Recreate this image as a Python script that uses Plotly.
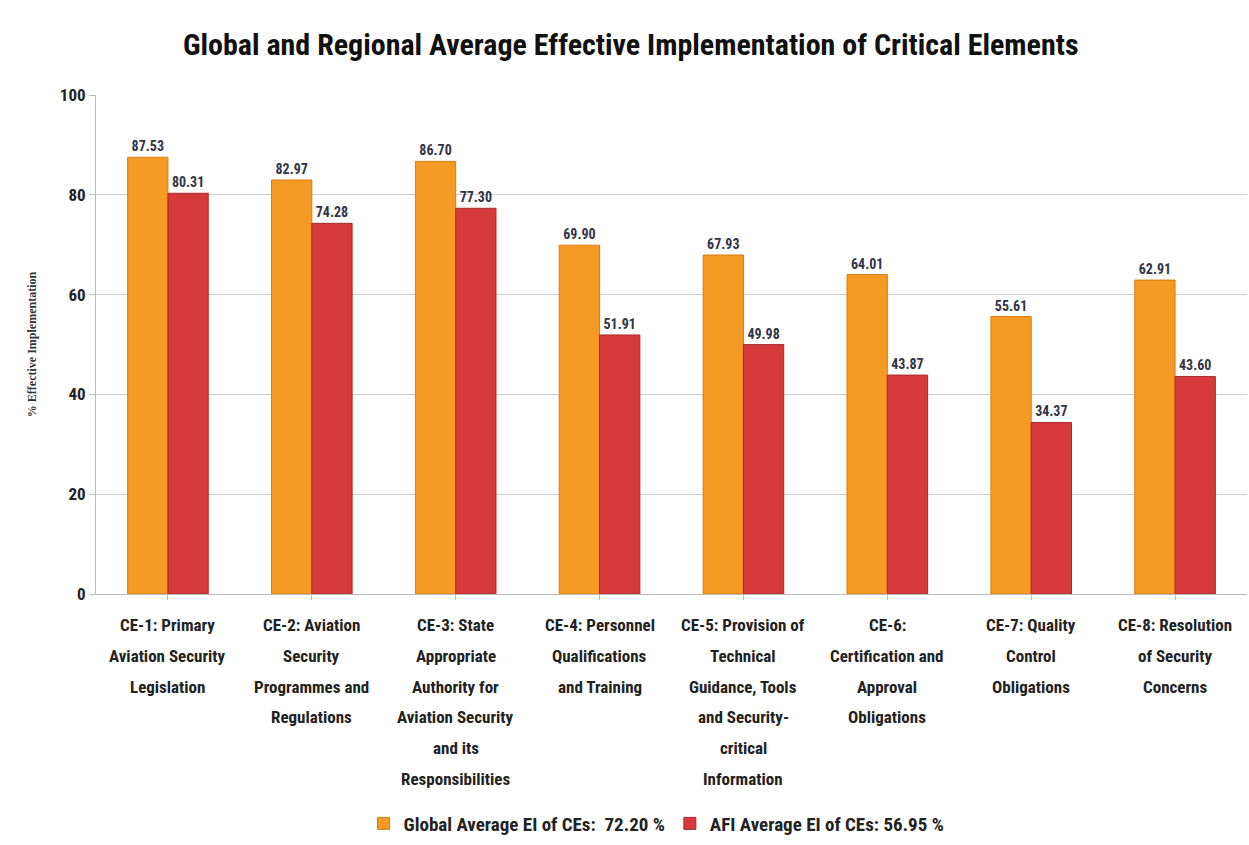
import plotly.graph_objects as go

categories = [
    "CE-1: Primary<br>Aviation Security<br>Legislation",
    "CE-2: Aviation<br>Security<br>Programmes and<br>Regulations",
    "CE-3: State<br>Appropriate<br>Authority for<br>Aviation Security<br>and its<br>Responsibilities",
    "CE-4: Personnel<br>Qualifications<br>and Training",
    "CE-5: Provision of<br>Technical<br>Guidance, Tools<br>and Security-<br>critical<br>Information",
    "CE-6:<br>Certification and<br>Approval<br>Obligations",
    "CE-7: Quality<br>Control<br>Obligations",
    "CE-8: Resolution<br>of Security<br>Concerns",
]
global_avg = [87.53, 82.97, 86.70, 69.90, 67.93, 64.01, 55.61, 62.91]
afi_avg = [80.31, 74.28, 77.30, 51.91, 49.98, 43.87, 34.37, 43.60]
series_names = ["Global Average EI of CEs:  72.20 %", "AFI Average EI of CEs: 56.95 %"]
y_ticks = [0, 20, 40, 60, 80, 100]

FONT = "Roboto Condensed, Liberation Sans Narrow, Arial Narrow, Liberation Sans, sans-serif"

fig = go.Figure()
fig.add_trace(go.Bar(
    x=categories, y=global_avg, name="<b>" + series_names[0] + "</b>",
    marker=dict(color="#F59A23", line=dict(color="#D97B12", width=1)),
    text=[f"<b>{v:.2f}</b>" for v in global_avg], textposition="outside",
    textfont=dict(family=FONT, size=14, color="#333344"), cliponaxis=False,
))
fig.add_trace(go.Bar(
    x=categories, y=afi_avg, name="<b>" + series_names[1] + "</b>",
    marker=dict(color="#D6393C", line=dict(color="#A82A2E", width=1)),
    text=[f"<b>{v:.2f}</b>" for v in afi_avg], textposition="outside",
    textfont=dict(family=FONT, size=14, color="#333344"), cliponaxis=False,
))

# multi-line category labels with generous line spacing
for cat in categories:
    for i, line in enumerate(cat.split("<br>")):
        fig.add_annotation(
            x=cat, xref="x", y=0, yref="paper", yanchor="middle",
            yshift=-(31 + 30.8 * i), text="<b>" + line + "</b>", showarrow=False,
            font=dict(family=FONT, size=17, color="#222222"),
        )

fig.update_layout(
    width=1249, height=845,
    margin=dict(l=96, r=2, t=95, b=248),
    paper_bgcolor="white", plot_bgcolor="white",
    barmode="group", bargap=0.44, bargroupgap=0,
    title=dict(
        text="<b>Global and Regional Average Effective Implementation of Critical Elements</b>",
        x=0.505, xanchor="center", y=0.947, yanchor="middle",
        font=dict(family=FONT, size=30, color="#111111"),
    ),
    legend=dict(
        orientation="h", x=0.487, xanchor="center", y=-0.46, yanchor="middle",
        font=dict(family=FONT, size=19, color="#222222"),
        itemwidth=30, traceorder="normal",
    ),
    xaxis=dict(
        showticklabels=False, showline=True, linecolor="#BBBBBB",
        ticks="outside", tickcolor="#BBBBBB", ticklen=5,
    ),
    yaxis=dict(
        range=[0, 100], tickvals=y_ticks, ticktext=[f"<b>{t}</b>" for t in y_ticks],
        showgrid=True, gridcolor="#CCCCCC",
        showline=True, linecolor="#BBBBBB", ticks="outside", tickcolor="#BBBBBB", ticklen=6,
        tickfont=dict(family=FONT, size=17, color="#222222"),
        title=dict(text="<b>% Effective Implementation</b>",
                   font=dict(family="Liberation Serif, DejaVu Serif, serif", size=12, color="#333333"),
                   standoff=20),
        zeroline=False,
    ),
    font=dict(family=FONT),
)

fig.write_html("out.html")
